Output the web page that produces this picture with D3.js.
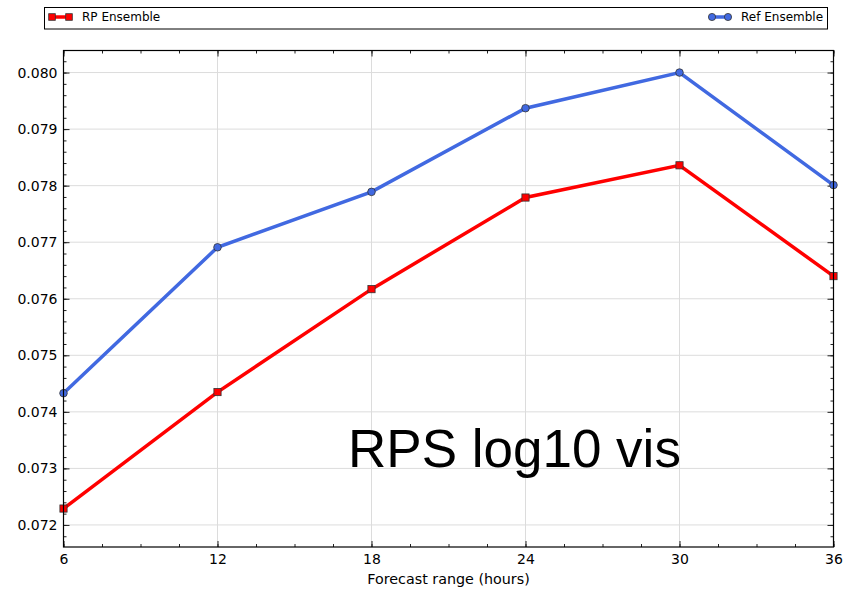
<!DOCTYPE html>
<html><head><meta charset="utf-8">
<script src="https://cdn.jsdelivr.net/npm/d3@7"></script>
<style>body{margin:0;background:#fff}svg{display:block}</style>
</head><body>
<script>
const hours = [6, 12, 18, 24, 30, 36];
const rpEnsemble = [0.07229, 0.07435, 0.07617, 0.07779, 0.07836, 0.07640];
const refEnsemble = [0.07433, 0.07691, 0.07789, 0.07937, 0.08000, 0.07801];
const xTicks = [6, 12, 18, 24, 30, 36];
const yTicks = [0.072, 0.073, 0.074, 0.075, 0.076, 0.077, 0.078, 0.079, 0.080];
const seriesNames = ["RP Ensemble", "Ref Ensemble"];
const annotation = "RPS log10 vis";
const xLabel = "Forecast range (hours)";

const W = 851, H = 589;
const L = 63.5, R = 833.5, T = 50.5, B = 547;
const svg = d3.select("body").append("svg").attr("width", W).attr("height", H);
const x = d3.scaleLinear().domain([6, 36]).range([L, R]);
const y = d3.scaleLinear().domain([0.07161, 0.08039]).range([B, T]);
const font = "DejaVu Sans, sans-serif";

// grid
svg.append("g").selectAll("line").data(xTicks).join("line")
  .attr("x1", d => x(d)).attr("x2", d => x(d)).attr("y1", T).attr("y2", B)
  .attr("stroke", "#dcdcdc").attr("stroke-width", 1);
svg.append("g").selectAll("line").data(yTicks).join("line")
  .attr("y1", d => y(d)).attr("y2", d => y(d)).attr("x1", L).attr("x2", R)
  .attr("stroke", "#dcdcdc").attr("stroke-width", 1);

// annotation text
svg.append("text").attr("x", 348).attr("y", 467)
  .attr("font-family", "Liberation Sans, Arial, sans-serif").attr("font-size", 53)
  .attr("fill", "#000").text(annotation);

// axes with inward ticks
const xMinor = d3.range(6, 36.01, 1.5);
const yMinor = d3.range(0.0716, 0.0804, 0.0002).filter(v => v >= 0.07161 && v <= 0.08039);
const axB = d3.axisBottom(x).tickValues(xTicks).tickFormat(d3.format("d")).tickSizeInner(-6).tickSizeOuter(0).tickPadding(7);
const axL = d3.axisLeft(y).tickValues(yTicks).tickFormat(d3.format(".3f")).tickSizeInner(-6).tickSizeOuter(0).tickPadding(6);
svg.append("g").attr("transform", `translate(0,${B})`).call(axB);
svg.append("g").attr("transform", `translate(${L},0)`).call(axL);
svg.append("g").attr("transform", `translate(0,${T})`).call(d3.axisTop(x).tickValues(xTicks).tickFormat("").tickSizeInner(-6).tickSizeOuter(0));
svg.append("g").attr("transform", `translate(${R},0)`).call(d3.axisRight(y).tickValues(yTicks).tickFormat("").tickSizeInner(-6).tickSizeOuter(0));
svg.append("g").attr("transform", `translate(0,${B})`).call(d3.axisBottom(x).tickValues(xMinor).tickFormat("").tickSizeInner(-3).tickSizeOuter(0));
svg.append("g").attr("transform", `translate(0,${T})`).call(d3.axisTop(x).tickValues(xMinor).tickFormat("").tickSizeInner(-3).tickSizeOuter(0));
svg.append("g").attr("transform", `translate(${L},0)`).call(d3.axisLeft(y).tickValues(yMinor).tickFormat("").tickSizeInner(-3).tickSizeOuter(0));
svg.append("g").attr("transform", `translate(${R},0)`).call(d3.axisRight(y).tickValues(yMinor).tickFormat("").tickSizeInner(-3).tickSizeOuter(0));
svg.selectAll(".domain").remove();
svg.selectAll(".tick line").attr("stroke", "#222");
svg.selectAll(".tick text").attr("font-family", font).attr("font-size", 14).attr("fill", "#000");

// series
const line = d3.line().x((d, i) => x(hours[i])).y(d => y(d));
svg.append("path").datum(refEnsemble).attr("d", line).attr("fill", "none")
  .attr("stroke", "#4169e1").attr("stroke-width", 3.5);
svg.append("path").datum(rpEnsemble).attr("d", line).attr("fill", "none")
  .attr("stroke", "#ff0000").attr("stroke-width", 3.5);
svg.append("g").selectAll("circle").data(refEnsemble).join("circle")
  .attr("cx", (d, i) => x(hours[i])).attr("cy", d => y(d)).attr("r", 3.8)
  .attr("fill", "#4169e1").attr("stroke", "#333").attr("stroke-width", 0.8);
svg.append("g").selectAll("rect").data(rpEnsemble).join("rect")
  .attr("x", (d, i) => x(hours[i]) - 3.6).attr("y", d => y(d) - 3.6)
  .attr("width", 7.2).attr("height", 7.2)
  .attr("fill", "#ff0000").attr("stroke", "#333").attr("stroke-width", 0.8);

// frame
svg.append("rect").attr("x", L).attr("y", T).attr("width", R - L).attr("height", B - T)
  .attr("fill", "none").attr("stroke", "#000").attr("stroke-width", 1.2);

// x label
svg.append("text").attr("x", (L + R) / 2).attr("y", 584).attr("text-anchor", "middle")
  .attr("font-family", font).attr("font-size", 14.3).attr("fill", "#000").text(xLabel);

// legend
const lg = svg.append("g");
lg.append("rect").attr("x", 44.5).attr("y", 7.5).attr("width", 783).attr("height", 21.5)
  .attr("fill", "#fff").attr("stroke", "#000").attr("stroke-width", 1);
lg.append("line").attr("x1", 52).attr("x2", 69).attr("y1", 17).attr("y2", 17)
  .attr("stroke", "#ff0000").attr("stroke-width", 3.5);
[52, 69].forEach(px => lg.append("rect").attr("x", px - 3.3).attr("y", 17 - 3.3)
  .attr("width", 6.6).attr("height", 6.6).attr("fill", "#ff0000").attr("stroke", "#333").attr("stroke-width", 0.8));
lg.append("text").attr("x", 82).attr("y", 21).attr("font-family", font).attr("font-size", 12)
  .attr("fill", "#000").text(seriesNames[0]);
lg.append("line").attr("x1", 712).attr("x2", 728).attr("y1", 17).attr("y2", 17)
  .attr("stroke", "#4169e1").attr("stroke-width", 3.5);
[712, 728].forEach(px => lg.append("circle").attr("cx", px).attr("cy", 17).attr("r", 3.6)
  .attr("fill", "#4169e1").attr("stroke", "#333").attr("stroke-width", 0.8));
lg.append("text").attr("x", 741).attr("y", 21).attr("font-family", font).attr("font-size", 12)
  .attr("fill", "#000").text(seriesNames[1]);
</script>
</body></html>
